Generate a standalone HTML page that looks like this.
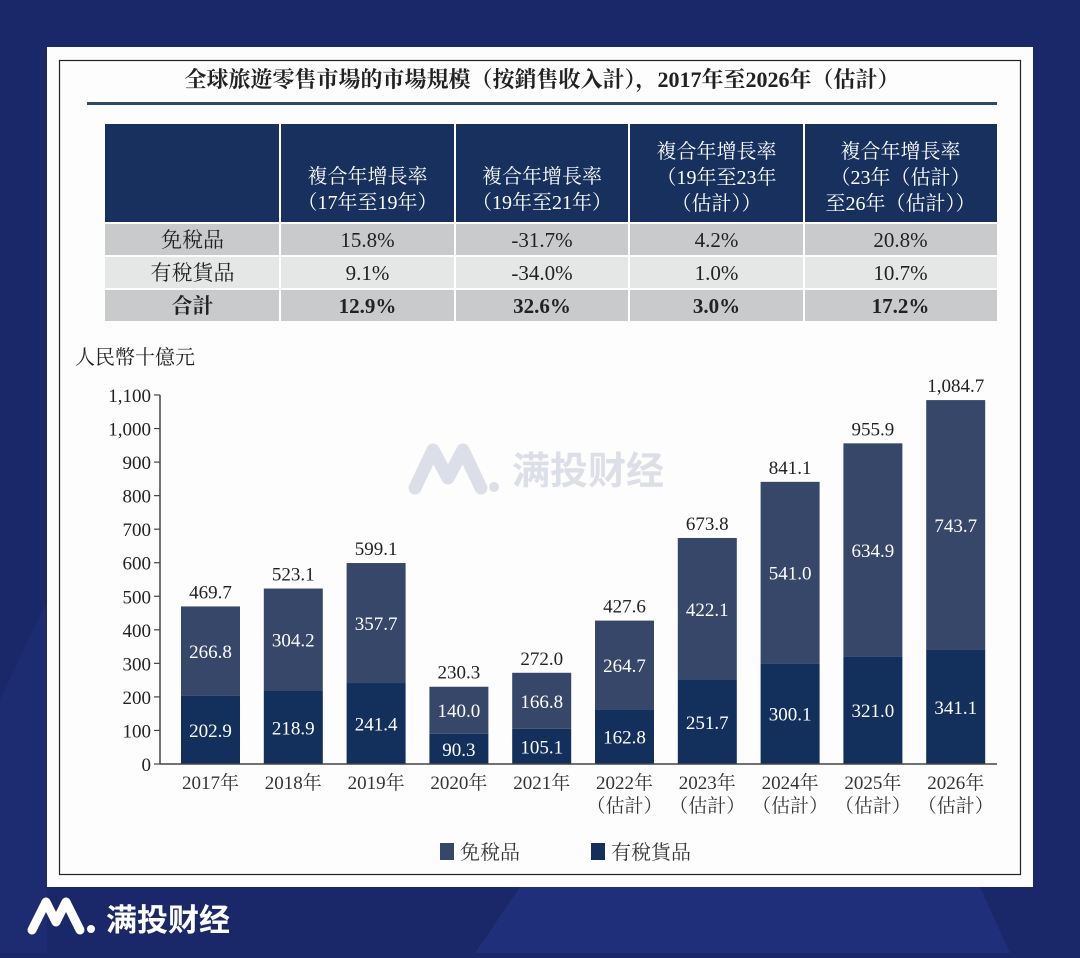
<!DOCTYPE html>
<html><head><meta charset="utf-8">
<style>
body{margin:0;width:1080px;height:953px;overflow:hidden;background:#1a2768;font-family:"Liberation Serif","Noto Serif CJK SC",serif;}
</style></head>
<body>
<svg id="root" width="1080" height="953" xmlns="http://www.w3.org/2000/svg">
<rect x="0" y="0" width="1080" height="953" fill="#1a2768"/>
<polygon points="520,887 980,887 1010,953 475,953" fill="#1f2f7a"/>
<polygon points="0,700 47,600 47,953 0,953" fill="#1d2b70"/>
<rect x="47" y="47" width="986" height="840" fill="#fdfdfd"/>
<rect x="59.5" y="60.5" width="961" height="814" fill="none" stroke="#222" stroke-width="1.2"/>
<text x="542" y="87" text-anchor="middle" font-size="22" font-weight="bold" fill="#222" font-family="Liberation Serif,Noto Serif CJK SC,serif">全球旅遊零售市場的市場規模（按銷售收入計），2017年至2026年（估計）</text>
<rect x="87" y="102" width="910" height="3" fill="#2e4a6a"/>
<g id="table"></g>
<text x="75" y="364" font-size="20" fill="#222" font-family="Liberation Serif,Noto Serif CJK SC,serif">人民幣十億元</text>
<g id="chart"></g>
<text x="512" y="484" font-size="38" fill="#dcdee8" font-family="Noto Sans CJK SC,sans-serif" font-weight="bold">满投财经</text>
<path d="M415,488 L433,450 L448,478 L463,450 L481,488" stroke="#dcdee8" stroke-width="13" fill="none" stroke-linejoin="round" stroke-linecap="round"/>
<circle cx="494" cy="487" r="5" fill="#dcdee8"/>
<rect x="440" y="843" width="14" height="17" fill="#37476a"/>
<text x="460" y="859" font-size="20" fill="#333" font-family="Liberation Serif,Noto Serif CJK SC,serif">免稅品</text>
<rect x="591" y="843" width="14" height="17" fill="#13305c"/>
<text x="611" y="859" font-size="20" fill="#333" font-family="Liberation Serif,Noto Serif CJK SC,serif">有稅貨品</text>
<path d="M32,930 L46,902 L56,922 L66,902 L80,930" stroke="#fff" stroke-width="9" fill="none" stroke-linejoin="round" stroke-linecap="round"/>
<circle cx="91" cy="929" r="4" fill="#fff"/>
<text x="106" y="931" font-size="31" fill="#fff" font-family="Noto Sans CJK SC,sans-serif" font-weight="bold">满投财经</text>
</svg>
<script>
const NS="http://www.w3.org/2000/svg";
const categories=["2017年","2018年","2019年","2020年","2021年","2022年","2023年","2024年","2025年","2026年"];
const estimated=[false,false,false,false,false,true,true,true,true,true];
const dutyPaid=[202.9,218.9,241.4,90.3,105.1,162.8,251.7,300.1,321.0,341.1];
const dutyFree=[266.8,304.2,357.7,140.0,166.8,264.7,422.1,541.0,634.9,743.7];
const totals=["469.7","523.1","599.1","230.3","272.0","427.6","673.8","841.1","955.9","1,084.7"];
const yTicks=[0,100,200,300,400,500,600,700,800,900,1000,1100];
const tableCols=["","複合年增長率|（17年至19年）","複合年增長率|（19年至21年）","複合年增長率|（19年至23年|（估計））","複合年增長率|（23年（估計）|至26年（估計））"];
const tableRows=[["免稅品","15.8%","-31.7%","4.2%","20.8%"],["有稅貨品","9.1%","-34.0%","1.0%","10.7%"],["合計","12.9%","32.6%","3.0%","17.2%"]];
function mk(tag,attrs,parent,txt){const e=document.createElementNS(NS,tag);for(const k in attrs)e.setAttribute(k,attrs[k]);if(txt!==undefined)e.textContent=txt;parent.appendChild(e);return e;}
const F='"Liberation Serif","Noto Serif CJK SC",serif';
const tb=document.getElementById('table');
const cx=[105,280,455,629,804,997];
mk('rect',{x:105,y:124,width:892,height:98,fill:'#17305e'},tb);
tableCols.forEach((c,i)=>{if(!c)return;const lines=c.split('|');const mid=(cx[i]+cx[i+1])/2;const start=lines.length==2?183:158;
lines.forEach((l,j)=>{const t=mk('text',{x:mid,y:start+j*26,'text-anchor':'middle','font-size':20,fill:'#fff','font-family':F},tb,l);

});});
const rowY=[224,257,290],rowFill=['#c9cacc','#e5e6e6','#c9cacc'];
tableRows.forEach((r,ri)=>{const bg=mk('rect',{x:105,y:rowY[ri],width:892,height:31,fill:rowFill[ri]},tb);


r.forEach((v,ci)=>{const t=mk('text',{x:(cx[ci]+cx[ci+1])/2,y:rowY[ri]+23,'text-anchor':'middle','font-size':21,fill:'#222','font-weight':ri==2?'bold':'normal','font-family':F},tb,v);

});});
for(let i=1;i<5;i++){const l=mk('line',{x1:cx[i],y1:124,x2:cx[i],y2:321,stroke:'#fff','stroke-width':2},tb);}
const ch=document.getElementById('chart');
const y0=764,ppu=369/1100;const Y=v=>y0-v*ppu;
const X=i=>181+i*82.8;const bw=59;
yTicks.forEach(t=>{const l=mk('line',{x1:154,y1:Y(t),x2:160,y2:Y(t),stroke:'#444','stroke-width':1.2},ch);


const tx=mk('text',{x:151,y:Y(t)+7,'text-anchor':'end','font-size':19,fill:'#222','font-family':F},ch,t.toLocaleString('en-US'));

});
mk('line',{x1:160,y1:Y(1100),x2:160,y2:y0,stroke:'#444','stroke-width':1.5},ch);
categories.forEach((c,i)=>{const x=X(i);const p=dutyPaid[i],f=dutyFree[i];
const r1=mk('rect',{x:x,y:Y(p),width:bw,height:p*ppu,fill:'#13305c'},ch);


const r2=mk('rect',{x:x,y:Y(p+f),width:bw,height:f*ppu,fill:'#37476a'},ch);


const m=x+bw/2;
const a=mk('text',{x:m,y:Y(p/2)+7,'text-anchor':'middle','font-size':19,fill:'#fff','font-family':F},ch,p.toFixed(1));


const b=mk('text',{x:m,y:Y(p+f/2)+7,'text-anchor':'middle','font-size':19,fill:'#fff','font-family':F},ch,f.toFixed(1));


const t=mk('text',{x:m,y:Y(p+f)-8,'text-anchor':'middle','font-size':19,fill:'#222','font-family':F},ch,totals[i]);


const xl=mk('text',{x:m,y:789,'text-anchor':'middle','font-size':19,fill:'#333','font-family':F},ch,c);


if(estimated[i]){const e=mk('text',{x:m,y:812,'text-anchor':'middle','font-size':19,fill:'#333','font-family':F},ch,'（估計）');

}
});
mk('line',{x1:160,y1:y0,x2:997,y2:y0,stroke:'#444','stroke-width':1.5},ch);
</script>
</body></html>
